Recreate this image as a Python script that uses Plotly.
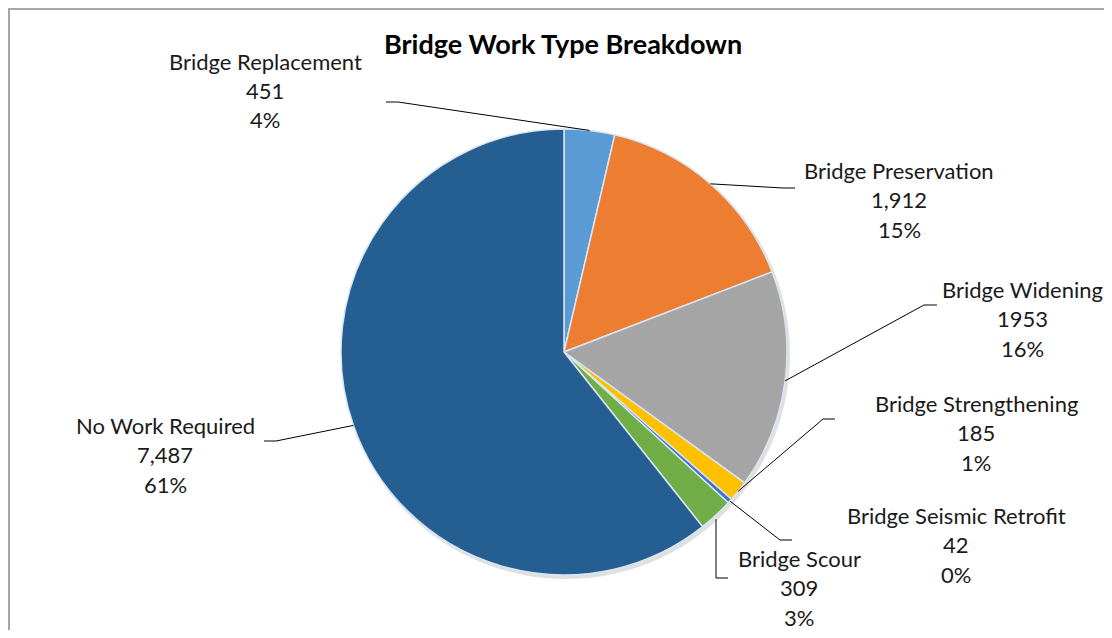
import math
import plotly.graph_objects as go

# ---- data ----
categories = ["Bridge Replacement", "Bridge Preservation", "Bridge Widening",
              "Bridge Strengthening", "Bridge Seismic Retrofit", "Bridge Scour",
              "No Work Required"]
values = [451, 1912, 1953, 185, 42, 309, 7487]
value_labels = ["451", "1,912", "1953", "185", "42", "309", "7,487"]
colors = ["#5b9bd5", "#ed7d31", "#a5a5a5", "#ffc000", "#4472c4", "#70ad47", "#255e91"]

OFF = 8  # page body margin
W, H = 1112 - 2 * OFF, 638 - 2 * OFF
CX, CY, R = 564, 352, 223  # pie geometry in screen pixels


def px(x):
    return (x - OFF) / W


def py(y):
    return 1 - (y - OFF) / H


FONT = "Lato"

fig = go.Figure()
fig.add_trace(go.Pie(
    labels=categories, values=values, sort=False, direction="clockwise",
    rotation=0, textinfo="none", showlegend=False,
    marker=dict(colors=colors, line=dict(color="#d9e5f3", width=1.5)),
    domain=dict(x=[px(CX - R), px(CX + R)], y=[py(CY + R), py(CY - R)]),
))

# label layout (positions: label center x, first line y, elbow, end)
label_layout = [
    dict(cx=265, y0=61, elbow=(398, 102), end=(386, 102)),
    dict(cx=899, y0=170, elbow=(783, 188), end=(795, 188)),
    dict(cx=1022, y0=289, elbow=(924, 305), end=(937, 305)),
    dict(cx=976, y0=403, elbow=(823, 419), end=(835, 419)),
    dict(cx=956, y0=515, elbow=(780, 540), end=(792, 540)),
    dict(cx=799, y0=558, elbow=(716, 578), end=(728, 578)),
    dict(cx=165, y0=425, elbow=(276, 441), end=(264, 441)),
]
LINE_GAP = 29.5

total = sum(values)
annotations = []
shapes = []

# frame
shapes.append(dict(type="rect", xref="paper", yref="paper",
                   x0=px(9), x1=px(1140), y0=py(680), y1=py(9),
                   line=dict(color="#a6a6a6", width=2), layer="below"))
# soft shadow
shapes.append(dict(type="circle", xref="paper", yref="paper",
                   x0=px(CX - R + 1), x1=px(CX + R + 3), y0=py(CY + R + 4), y1=py(CY - R + 1),
                   fillcolor="rgba(0,0,0,0.12)", line=dict(width=0), layer="below"))

cum = 0
for i, (cat, v, vl) in enumerate(zip(categories, values, value_labels)):
    mid = (cum + v / 2) / total * 2 * math.pi
    cum += v
    sx = CX + R * math.sin(mid)
    sy = CY - R * math.cos(mid)
    L = label_layout[i]
    ex, ey = L["elbow"]
    tx, ty = L["end"]
    if i == 5:
        sy = sy + 4
        sx = ex
    path = f"M {px(sx)} {py(sy)} L {px(ex)} {py(ey)} L {px(tx)} {py(ty)}"
    shapes.append(dict(type="path", xref="paper", yref="paper", path=path,
                       line=dict(color="black", width=1)))
    pct = f"{round(v / total * 100)}%"
    for k, t in enumerate([cat, vl, pct]):
        annotations.append(dict(
            text=t, x=px(L["cx"]), y=py(L["y0"] + k * LINE_GAP),
            xref="paper", yref="paper", xanchor="center", yanchor="middle",
            showarrow=False, font=dict(family=FONT, size=22, color="#1a1a1a")))

annotations.append(dict(
    text="<b>Bridge Work Type Breakdown</b>", x=px(563), y=py(44),
    xref="paper", yref="paper", xanchor="center", yanchor="middle",
    showarrow=False, font=dict(family=FONT, size=27, color="#000000")))

fig.update_layout(
    width=W, height=H, margin=dict(l=0, r=0, t=0, b=0),
    paper_bgcolor="white", plot_bgcolor="white",
    annotations=annotations, shapes=shapes,
)

fig.write_html("out.html")
